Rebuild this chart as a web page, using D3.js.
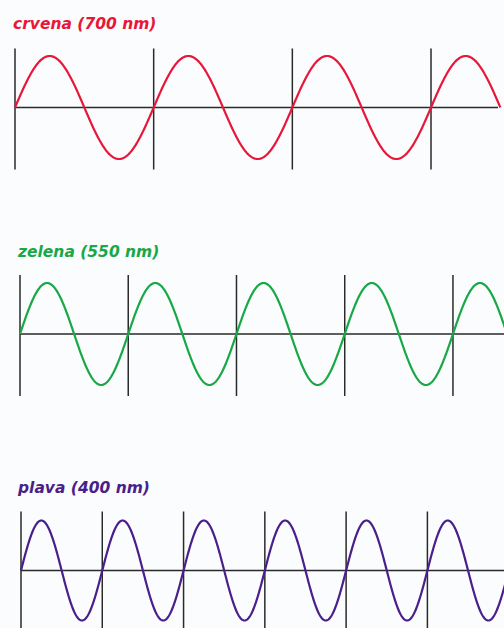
<!DOCTYPE html>
<html>
<head>
<meta charset="utf-8">
<script src="https://cdn.jsdelivr.net/npm/d3@7"></script>
<style>
  html, body { margin: 0; padding: 0; background: #fafcfd; }
  svg { display: block; }
  .title { font-family: "DejaVu Sans", sans-serif; font-weight: bold; font-style: italic; font-size: 15.5px; }
  .axis line { stroke: #2a2a2a; stroke-width: 1.5; }
</style>
</head>
<body>
<div id="container"></div>
<script>
// Data
let labels = ["crvena (700 nm)", "zelena (550 nm)", "plava (400 nm)"];
let wavelengths = [700, 550, 400];
let colors = ["#e8173a", "#18a845", "#4a1f8b"];
let periods = [3.5, 4.6, 6.2]; // how many waves are shown

// Width and height
let chart_width = 504;
let chart_height = 628;

// Per panel layout
let panel_x = [15, 20, 21];
let panel_axis_y = [107.5, 334, 570.5];
let panel_title_y = [29, 257, 493];
let panel_title_x = [13, 18, 18];
let px_per_nm = [0.1981, 0.1968, 0.2032];
let amplitude = [51.5, 51, 50];
let axis_end = [498, 504, 504];

let svg = d3.select("#container")
  .append("svg")
  .attr("width", chart_width)
  .attr("height", chart_height);

svg.append("defs").append("clipPath")
  .attr("id", "clip")
  .append("rect")
  .attr("width", chart_width)
  .attr("height", chart_height);

labels.forEach(function(label, i){
  let nm = wavelengths[i];
  let total = nm * periods[i];

  let x = d3.scaleLinear()
    .domain([0, total])
    .range([panel_x[i], panel_x[i] + total * px_per_nm[i]]);
  let y = d3.scaleLinear()
    .domain([-1, 1])
    .range([panel_axis_y[i] + amplitude[i], panel_axis_y[i] - amplitude[i]]);

  let g = svg.append("g").attr("clip-path", "url(#clip)");

  // Title
  g.append("text")
    .attr("class", "title")
    .attr("x", panel_title_x[i])
    .attr("y", panel_title_y[i])
    .attr("fill", colors[i])
    .text(label);

  // Horizontal axis and the wavelength marks
  let axis = g.append("g").attr("class", "axis");
  axis.append("line")
    .attr("x1", panel_x[i])
    .attr("x2", axis_end[i])
    .attr("y1", y(0))
    .attr("y2", y(0));

  let marks = d3.range(0, total, nm);
  axis.selectAll("line.mark")
    .data(marks)
    .enter()
    .append("line")
    .attr("class", "mark")
    .attr("x1", (d) => x(d))
    .attr("x2", (d) => x(d))
    .attr("y1", y(0) - 59)
    .attr("y2", y(0) + 62);

  // The wave
  let steps = d3.range(0, total + nm / 400, nm / 200);
  let line = d3.line()
    .x((d) => x(d))
    .y((d) => y(Math.sin(2 * Math.PI * d / nm)));

  g.append("path")
    .datum(steps)
    .attr("d", line)
    .attr("fill", "none")
    .attr("stroke", colors[i])
    .attr("stroke-width", 2.2);
});
</script>
</body>
</html>
